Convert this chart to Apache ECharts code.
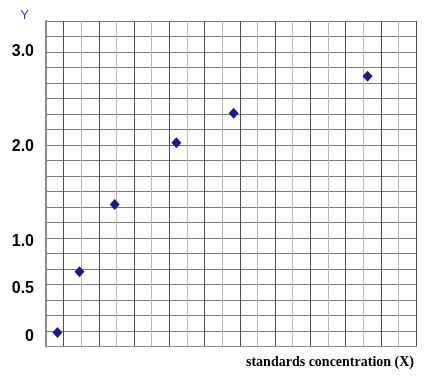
<!DOCTYPE html>
<html>
<head>
<meta charset="utf-8">
<script src="https://cdn.jsdelivr.net/npm/echarts@6/dist/echarts.min.js"></script>
<style>
html,body{margin:0;padding:0;background:#fff;}
#chart{width:436px;height:383px;}
</style>
</head>
<body>
<div id="chart"></div>
<script>
// Standards (x in grid cells along the concentration axis, y = measured Y)
var xValues = [0.65, 1.9, 3.9, 7.4, 10.65, 18.25];
var yValues = [0.04, 0.68, 1.39, 2.04, 2.35, 2.74];
var yTickValues = [0, 0.5, 1, 2, 3];
var yTickLabels = ['0', '0.5', '1.0', '2.0', '3.0'];
var xAxisTitle = 'standards concentration (X)';
var yAxisTitle = 'Y';

var points = xValues.map(function (x, i) { return [x, yValues[i]]; });

var chart = echarts.init(document.getElementById('chart'), null, {renderer: 'canvas'});
chart.setOption({
  backgroundColor: '#ffffff',
  animation: false,
  grid: {left: 46, right: 20, top: 21, bottom: 36.5, containLabel: false},
  xAxis: [{
    type: 'value', min: 0, max: 21, interval: 1,
    axisLine: {show: true, lineStyle: {color: '#8a8a8a', width: 1}},
    axisTick: {show: false},
    axisLabel: {show: false},
    splitLine: {show: true, lineStyle: {color: ['#b8b8b8', '#4e4e4e'], width: 1}},
    name: xAxisTitle,
    nameLocation: 'end',
    nameGap: -2,
    nameTextStyle: {
      fontFamily: 'Liberation Serif', fontWeight: 'bold', fontSize: 14,
      color: '#000', align: 'right', verticalAlign: 'top', padding: [9, 0, 0, 0]
    }
  }],
  yAxis: [{
    // grid rows
    type: 'value', min: 0, max: 21, interval: 1, position: 'right',
    axisLine: {show: true, lineStyle: {color: '#8a8a8a', width: 2}},
    axisTick: {show: false},
    axisLabel: {show: false},
    splitLine: {show: true, lineStyle: {color: '#7a7a7a', width: 1}}
  }, {
    // value scale for Y
    type: 'value', min: -0.1085, max: 3.3235, position: 'left',
    axisLine: {show: false},
    axisTick: {show: false},
    splitLine: {show: false},
    axisLabel: {
      show: true, customValues: yTickValues, margin: 12,
      fontFamily: 'Liberation Sans', fontWeight: 'bold', fontSize: 16, color: '#000',
      formatter: function (v) {
        for (var i = 0; i < yTickValues.length; i++) {
          if (Math.abs(yTickValues[i] - v) < 1e-6) return yTickLabels[i];
        }
        return '';
      }
    },
    name: yAxisTitle,
    nameLocation: 'end',
    nameGap: -1,
    nameTextStyle: {
      fontFamily: 'Liberation Sans', fontSize: 13, color: '#3c3cb0',
      align: 'right', padding: [0, 17, 0, 0]
    }
  }],
  series: [{
    type: 'scatter',
    xAxisIndex: 0,
    yAxisIndex: 1,
    data: points,
    symbol: 'diamond',
    symbolSize: [10, 11],
    itemStyle: {color: '#1a1a88', opacity: 1}
  }]
});
</script>
</body>
</html>
